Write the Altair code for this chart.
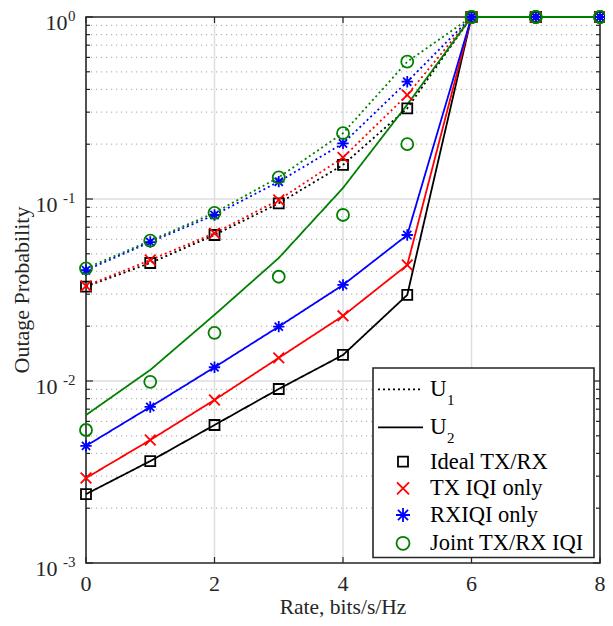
import altair as alt
import pandas as pd

# ---------------- data ----------------
rate = [0, 1, 2, 3, 4, 5, 6, 7, 8]
series = ["Ideal TX/RX", "TX IQI only", "RXIQI only", "Joint TX/RX IQI"]
colors = ["#000000", "#ff0000", "#0000ff", "#008000"]

# U1 (dotted lines, markers on the lines)
u1_ideal = [0.0330, 0.0445, 0.0634, 0.0947, 0.154, 0.315, 1, 1, 1]
u1_tx = [0.0333, 0.0462, 0.0649, 0.0988, 0.169, 0.373, 1, 1, 1]
u1_rx = [0.0406, 0.0580, 0.0817, 0.1245, 0.202, 0.441, 1, 1, 1]
u1_joint = [0.0416, 0.0590, 0.0840, 0.1316, 0.230, 0.568, 1, 1, 1]

# U2 (solid lines)
u2_ideal = [0.00239, 0.00363, 0.00573, 0.00904, 0.0139, 0.0297, 1, 1, 1]
u2_tx = [0.00293, 0.00474, 0.00787, 0.0134, 0.0228, 0.0434, 1, 1, 1]
u2_rx = [0.00440, 0.00720, 0.0119, 0.0199, 0.0337, 0.0634, 1, 1, 1]
u2_joint_line = [0.0065, 0.0115, 0.0231, 0.0474, 0.115, 0.33, 1, 1, 1]
u2_joint_marker = [0.00538, 0.0099, 0.0184, 0.0374, 0.0817, 0.20, 1, 1, 1]

x_ticks = [0, 2, 4, 6, 8]
y_major = [1, 0.1, 0.01, 0.001]
y_exp = ["0", "-1", "-2", "-3"]
y_minor = [k * 10.0 ** e for e in (-3, -2, -1) for k in range(2, 10)]

# ---------------- layout ----------------
W, H = 514, 546
FONT = "Liberation Serif"
AX = "#262626"

xs = alt.Scale(domain=[0, 8], nice=False, zero=False)
ys = alt.Scale(type="log", domain=[0.001, 1], nice=False)

line_rows, mark_rows = [], []
line_sets = [(u1_ideal, u2_ideal), (u1_tx, u2_tx), (u1_rx, u2_rx), (u1_joint, u2_joint_line)]
mark_sets = [(u1_ideal, u2_ideal), (u1_tx, u2_tx), (u1_rx, u2_rx), (u1_joint, u2_joint_marker)]
for i, s in enumerate(series):
    for user, vals in zip(["U1", "U2"], line_sets[i]):
        for r, v in zip(rate, vals):
            line_rows.append(dict(rate=r, p=v, series=s, user=user, order=i))
    for user, vals in zip(["U1", "U2"], mark_sets[i]):
        for r, v in zip(rate, vals):
            mark_rows.append(dict(rate=r, p=v, series=s, user=user, order=i))
line_df = pd.DataFrame(line_rows)
mark_df = pd.DataFrame(mark_rows)

X_PATH = "M-1,-1L1,1M-1,1L1,-1"
AST_PATH = "M-1,0L1,0M0,-1L0,1M-0.72,-0.72L0.72,0.72M-0.72,0.72L0.72,-0.72"
shapes = ["square", X_PATH, AST_PATH, "circle"]
sizes = [100, 144, 196, 169]

one = pd.DataFrame({"a": [0]})
xt_df = pd.DataFrame({"v": x_ticks})
ymaj_df = pd.DataFrame({"p": y_major, "e": y_exp})
ymin_df = pd.DataFrame({"p": y_minor})

X = alt.X("v:Q", scale=xs, axis=None)
Yp = alt.Y("p:Q", scale=ys, axis=None)

# grid
grid_v = alt.Chart(pd.DataFrame({"v": [2, 4, 6]})).mark_rule(color="#dedede", strokeWidth=1.5).encode(
    x=X, y=alt.value(0), y2=alt.value(H))
grid_h = alt.Chart(pd.DataFrame({"p": [0.1, 0.01]})).mark_rule(color="#dedede", strokeWidth=1.5).encode(
    y=Yp, x=alt.value(0), x2=alt.value(W))
grid_m = alt.Chart(ymin_df).mark_rule(color="#b5b5b5", strokeWidth=1.2, strokeDash=[1.2, 3.8]).encode(
    y=Yp, x=alt.value(0), x2=alt.value(W))

frame = alt.Chart(one).mark_rect(fillOpacity=0, stroke=AX, strokeWidth=1.6).encode(
    x=alt.value(0), x2=alt.value(W), y=alt.value(0), y2=alt.value(H))

# ticks (inside)
tk = dict(color=AX, strokeWidth=1.2)
tick_b = alt.Chart(xt_df).mark_rule(**tk).encode(x=X, y=alt.value(H), y2=alt.value(H - 6))
tick_t = alt.Chart(xt_df).mark_rule(**tk).encode(x=X, y=alt.value(0), y2=alt.value(6))
tick_l = alt.Chart(ymaj_df).mark_rule(**tk).encode(y=Yp, x=alt.value(0), x2=alt.value(7))
tick_r = alt.Chart(ymaj_df).mark_rule(**tk).encode(y=Yp, x=alt.value(W - 7), x2=alt.value(W))
tick_lm = alt.Chart(ymin_df).mark_rule(**tk).encode(y=Yp, x=alt.value(0), x2=alt.value(4))
tick_rm = alt.Chart(ymin_df).mark_rule(**tk).encode(y=Yp, x=alt.value(W - 4), x2=alt.value(W))

# tick labels
xlab = alt.Chart(xt_df).mark_text(font=FONT, fontSize=22, color=AX, baseline="alphabetic", align="center").encode(
    x=X, y=alt.value(H + 28), text=alt.Text("v:Q"))
exp_lab = alt.Chart(ymaj_df).mark_text(font=FONT, fontSize=15, color=AX, baseline="alphabetic", align="right", dy=4).encode(
    y=Yp, x=alt.value(-10.5), text="e:N")
ten0 = alt.Chart(ymaj_df[ymaj_df.e == "0"]).mark_text(font=FONT, fontSize=22, color=AX, baseline="alphabetic", align="right", dy=13).encode(
    y=Yp, x=alt.value(-18.5), text=alt.value("10"))
tenn = alt.Chart(ymaj_df[ymaj_df.e != "0"]).mark_text(font=FONT, fontSize=22, color=AX, baseline="alphabetic", align="right", dy=13).encode(
    y=Yp, x=alt.value(-28.5), text=alt.value("10"))

xtitle = alt.Chart(one).mark_text(font=FONT, fontSize=21.5, color=AX, align="center", baseline="alphabetic").encode(
    x=alt.value(W / 2), y=alt.value(H + 51), text=alt.value("Rate, bits/s/Hz"))
ytitle = alt.Chart(one).mark_text(font=FONT, fontSize=22, color=AX, align="center", baseline="middle", angle=270).encode(
    x=alt.value(-64), y=alt.value(H / 2), text=alt.value("Outage Probability"))

# data
lines = alt.Chart(line_df).mark_line(strokeWidth=1.8, clip=False).encode(
    x=alt.X("rate:Q", scale=xs, axis=None),
    y=alt.Y("p:Q", scale=ys, axis=None),
    color=alt.Color("series:N", scale=alt.Scale(domain=series, range=colors), legend=None),
    strokeDash=alt.StrokeDash("user:N", scale=alt.Scale(domain=["U1", "U2"], range=[[2, 3], [1, 0]]), legend=None),
    detail="user:N",
    order="rate:Q",
)
points = alt.Chart(mark_df).mark_point(filled=False, strokeWidth=1.8, opacity=1, clip=False).encode(
    x=alt.X("rate:Q", scale=xs, axis=None),
    y=alt.Y("p:Q", scale=ys, axis=None),
    color=alt.Color("series:N", scale=alt.Scale(domain=series, range=colors), legend=None),
    shape=alt.Shape("series:N", scale=alt.Scale(domain=series, range=shapes), legend=None),
    size=alt.Size("series:N", scale=alt.Scale(domain=series, range=sizes), legend=None),
    order="order:Q",
)

# legend (manual)
LX0, LX1, LY0, LY1 = 287, 508, 351, 540.5
leg = [alt.Chart(one).mark_rect(fill="white", stroke=AX, strokeWidth=1.6).encode(
    x=alt.value(LX0), x2=alt.value(LX1), y=alt.value(LY0), y2=alt.value(LY1))]
TX = 344
for yv, dash, sub in [(372.3, [2, 3], "1"), (410.3, [1, 0], "2")]:
    leg.append(alt.Chart(one).mark_rule(color="black", strokeWidth=1.8, strokeDash=dash).encode(
        x=alt.value(292), x2=alt.value(337), y=alt.value(yv)))
    leg.append(alt.Chart(one).mark_text(font=FONT, fontSize=23, color="black", align="left", baseline="middle").encode(
        x=alt.value(TX), y=alt.value(yv), text=alt.value("U")))
    leg.append(alt.Chart(one).mark_text(font=FONT, fontSize=15, color="black", align="left", baseline="middle").encode(
        x=alt.value(TX + 17), y=alt.value(yv + 11), text=alt.value(sub)))
for i, (s, yv) in enumerate(zip(series, [444.7, 471.3, 498, 526.3])):
    leg.append(alt.Chart(one).mark_point(filled=False, strokeWidth=1.8, opacity=1).encode(
        x=alt.value(317), y=alt.value(yv), shape=alt.value(shapes[i]), color=alt.value(colors[i]),
        size=alt.value(sizes[i])))
    leg.append(alt.Chart(one).mark_text(font=FONT, fontSize=22.5, color="black", align="left", baseline="middle").encode(
        x=alt.value(TX), y=alt.value(yv), text=alt.value(s)))

chart = alt.layer(
    grid_v, grid_m, grid_h, frame,
    tick_b, tick_t, tick_l, tick_r, tick_lm, tick_rm,
    xlab, exp_lab, ten0, tenn, xtitle, ytitle,
    lines, points, *leg,
).properties(
    width=W, height=H,
    autosize=alt.AutoSizeParams(type="none"),
    padding={"left": 78, "top": 9, "right": 5, "bottom": 55},
    background="white",
).configure_view(stroke=None)

chart.save("out.html", embed_options={"renderer": "svg", "actions": False})
